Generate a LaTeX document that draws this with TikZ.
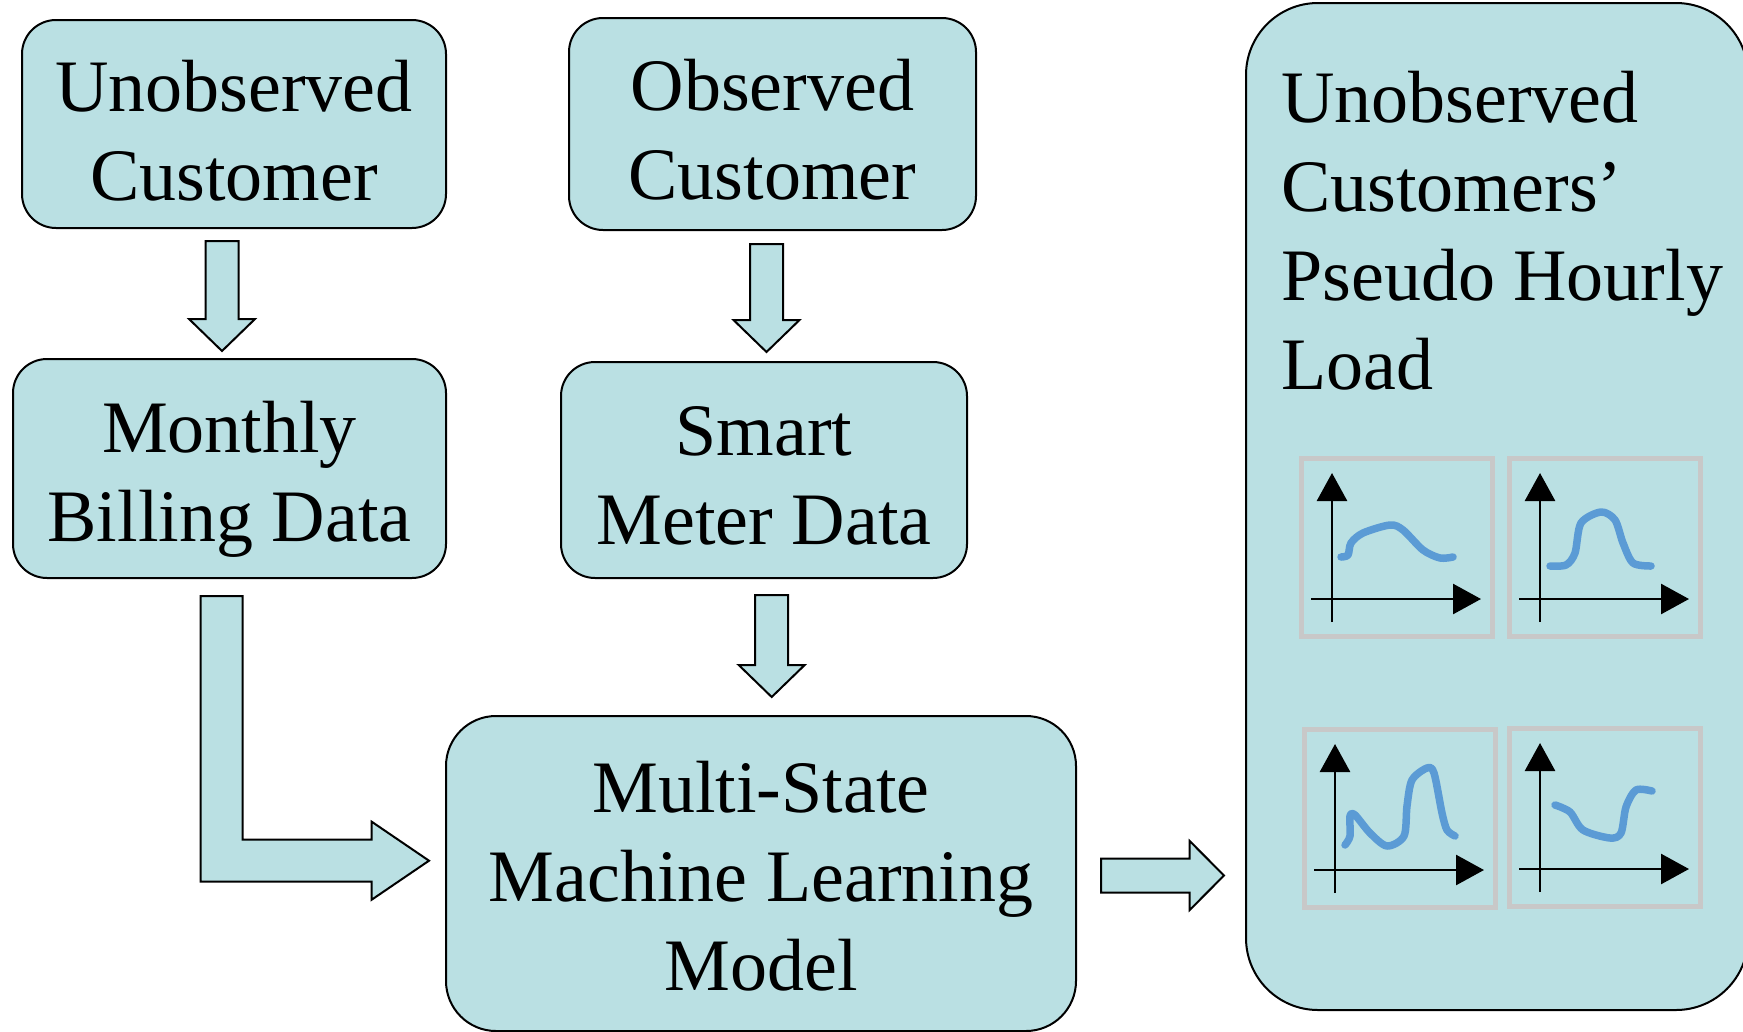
\documentclass[tikz,border=0pt]{standalone}
\usepackage{fontspec}
\setmainfont{Liberation Serif}
\usetikzlibrary{calc,arrows.meta}
\definecolor{boxteal}{RGB}{186,224,227}
\definecolor{curveblue}{RGB}{91,155,213}
\definecolor{framegray}{RGB}{200,200,200}
\tikzset{
	stage/.style={draw=black,line width=2pt,fill=boxteal,rounded corners=34pt,align=center,inner sep=0pt,font=\fontsize{74}{89}\selectfont},
	blockarrow/.style={draw=black,line width=2pt,fill=boxteal,line join=miter},
	chartframe/.style={draw=framegray,line width=5pt},
	chartaxis/.style={line width=2.7pt,-{Triangle[length=28pt,width=30pt]}},
	loadcurve/.style={draw=curveblue,line width=7.5pt,line cap=round,line join=round}
}
\newcommand{\topstrut}[1]{\rule{0pt}{#1pt}}
\newcommand{\loadchart}[3]{%
	\begin{scope}[shift={(#1,#2)}]
		\draw[chartframe] (2.5,2.5) rectangle (193.5,180.5);
		\draw[chartaxis] (33,166) -- (33,17);
		\draw[chartaxis] (12,143) -- (182,143);
		\draw[loadcurve] plot[smooth] coordinates {#3};
	\end{scope}}
\newcommand{\blockdown}[2]{%
	\draw[blockarrow] let \p1=(#1), \p2=(#2) in
		(\x1-16.5pt,\y1) -- (\x1+16.5pt,\y1) -- (\x1+16.5pt,\y2+32pt) -- (\x1+33pt,\y2+32pt)
		-- (\x1,\y2) -- (\x1-33pt,\y2+32pt) -- (\x1-16.5pt,\y2+32pt) -- cycle;}
\begin{document}
\begin{tikzpicture}[x=1pt,y=-1pt]
	\useasboundingbox (0,0) rectangle (1743,1031);
	\clip (0,0) rectangle (1743,1031);
	\node[stage,minimum width=424pt,minimum height=208pt] (uc) at (234,124) {\topstrut{64.5}Unobserved\\Customer};
	\node[stage,minimum width=407pt,minimum height=212pt] (oc) at (772.5,124) {\topstrut{63.5}Observed\\Customer};
	\node[stage,minimum width=433pt,minimum height=219pt] (mb) at (229.5,468.5) {\topstrut{72}Monthly\\Billing Data};
	\node[stage,minimum width=406pt,minimum height=216pt] (sm) at (764,470) {\topstrut{61}Smart\\Meter Data};
	\node[stage,minimum width=630pt,minimum height=315pt,rounded corners=50pt] (ml) at (761,873.5) {\topstrut{56.5}Multi-State\\Machine Learning\\Model};
	\node[stage,minimum width=502pt,minimum height=1007pt,rounded corners=72pt] (out) at (1497,506.5) {};
	\node[anchor=north west,inner sep=0pt,align=left,font=\fontsize{74}{89}\selectfont] (outtext) at (1281,71) {Unobserved\\Customers’\\Pseudo Hourly\\Load};

	\coordinate (a1) at ($(uc.south)+(-12,12)$);
	\coordinate (b1) at ($(mb.north)+(-8,-7)$);
	\coordinate (a2) at ($(oc.south)+(-6,13)$);
	\coordinate (b2) at ($(sm.north)+(2.5,-9)$);
	\coordinate (a3) at ($(sm.south)+(7.7,16)$);
	\coordinate (b3) at ($(ml.north)+(10.7,-18)$);
	\coordinate (a4) at ($(mb.south)+(-7.8,17)$);
	\coordinate (b4) at ($(ml.west)+(-16,-12.8)$);
	\coordinate (a5) at ($(ml.east)+(24,2)$);
	\coordinate (b5) at ($(out.west |- a5)+(-21,0)$);
	\blockdown{a1}{b1}
	\blockdown{a2}{b2}
	\blockdown{a3}{b3}
	\draw[blockarrow] let \p1=(a4), \p2=(b4) in
		(\x1-21pt,\y1) -- (\x1+21pt,\y1) -- (\x1+21pt,\y2+21pt) -- (\x2-57.3pt,\y2+21pt) -- (\x2-57.3pt,\y2+39pt)
		-- (\x2,\y2) -- (\x2-57.3pt,\y2-39pt) -- (\x2-57.3pt,\y2-21pt) -- (\x1-21pt,\y2-21pt) -- cycle;
	\draw[blockarrow] let \p1=(a5), \p2=(b5) in
		(\x1,\y1+17pt) -- (\x2-34.3pt,\y1+17pt) -- (\x2-34.3pt,\y1+34.5pt) -- (\x2,\y1)
		-- (\x2-34.3pt,\y1-34.5pt) -- (\x2-34.3pt,\y1-17pt) -- (\x1,\y1-17pt) -- cycle;

	\loadchart{1299}{456}{(42,101) (49,99) (52,87) (64,77) (91,69) (104,74) (124,94) (141,102) (154,101)}
	\loadchart{1507}{456}{(43,110) (59,109) (68,97) (74,67) (94,56) (108,64) (116,87) (126,107) (144,110)}
	\loadchart{1302}{727}{(43,118) (48,109) (48,89) (53,88) (68,106) (85,119) (102,109) (105,79) (110,53) (125,41) (132,46) (140,86) (145,103) (153,109)}
	\loadchart{1507}{726}{(48,79) (63,86) (76,104) (103,112) (114,107) (119,81) (129,64) (145,65)}
\end{tikzpicture}
\end{document}
